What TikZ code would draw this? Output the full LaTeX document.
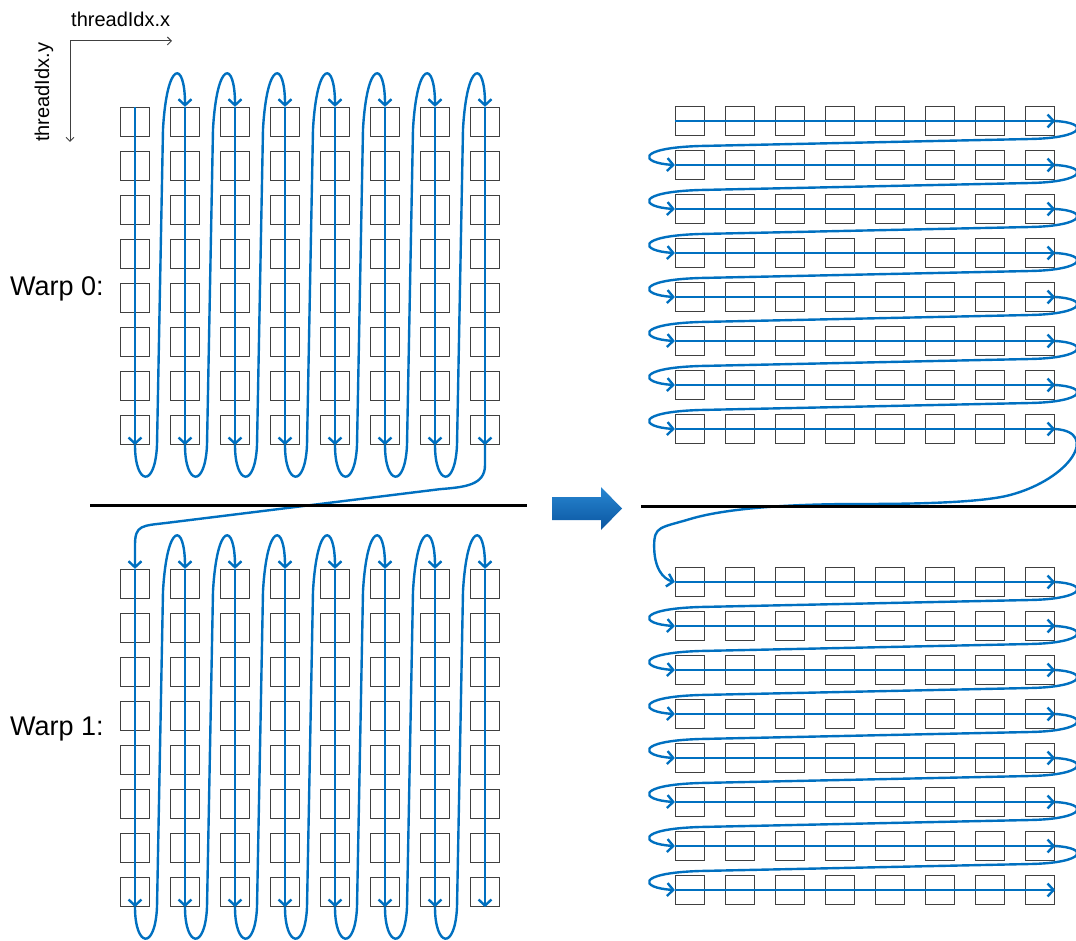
\documentclass[tikz,border=0pt]{standalone}
\usepackage{fontspec}
\setmainfont{Liberation Sans}
\usetikzlibrary{arrows.meta, calc}
\definecolor{flowblue}{RGB}{0,112,192}
\definecolor{cellgray}{RGB}{64,64,64}
\definecolor{arrowtop}{RGB}{40,135,210}
\definecolor{arrowbottom}{RGB}{10,85,160}

\begin{document}
\begin{tikzpicture}[
        x=1pt, y=-1pt,
        cell/.style={rectangle, draw=cellgray, line width=1.3pt, minimum size=29pt, inner sep=0pt},
        flow/.style={draw=flowblue, line width=2.4pt, -{Straight Barb[length=6pt, width=13pt]}},
        axisline/.style={draw=cellgray, line width=1pt, -{Straight Barb[length=4pt, width=8pt]}},
        divider/.style={line width=3pt},
        warplabel/.style={font=\fontsize{27}{32}\selectfont, anchor=base west, inner sep=0pt},
        axislabel/.style={font=\fontsize{20}{24}\selectfont, anchor=base west, inner sep=0pt}
    ]
        \useasboundingbox (0,0) rectangle (1076,941);
        \clip (0,0) rectangle (1076,941);

        % Axes
        \coordinate (origin) at (70,41);
        \coordinate (xtip) at (172,41);
        \coordinate (ytip) at (70,142);
        \draw[axisline] (origin) -- (xtip);
        \draw[axisline] (origin) -- (ytip);
        \node[axislabel] (xlabel) at (71,27) {threadIdx.x};
        \node[axislabel, rotate=90] (ylabel) at (49,142) {threadIdx.y};

        % Warp labels
        \node[warplabel] (w0) at (10,295) {Warp 0:};
        \node[warplabel] (w1) at (10,735) {Warp 1:};

        % Left grids (column order)
        \foreach \g/\ystart in {a/122, b/584}
            \foreach \r in {0,...,7}
                \foreach \c in {0,...,7}
                    \node[cell] (\g-\r-\c) at ({135+50*\c}, {\ystart+44*\r}) {};

        % Right grids (row order)
        \foreach \g/\ystart in {p/121, q/582}
            \foreach \r in {0,...,7}
                \foreach \c in {0,...,7}
                    \node[cell] (\g-\r-\c) at ({690+50*\c}, {\ystart+44*\r}) {};

        % Block arrow
        \shade[top color=arrowtop, bottom color=arrowbottom]
            (552,497) -- (601,497) -- (601,487) -- (622,508.5) -- (601,530) -- (601,520) -- (552,520) -- cycle;

        % Left flow, column by column
        \foreach \g in {a, b} {
            \foreach \c in {0,...,7}
                \draw[flow] (\g-0-\c.north) -- (\g-7-\c.south);
            \foreach \c [evaluate=\c as \n using int(\c+1)] in {0,...,6}
                \draw[flow] (\g-7-\c.south) .. controls +(0,40) and +(-2,44) .. ++(22,0)
                    -- ++(6,-316) .. controls +(4,-70) and +(0,-47) .. (\g-0-\n.north);
        }
        \draw[flow] (a-7-7.south) -- ++(0,20) .. controls +(0,20) and +(25,-2) .. ++(-45,24)
            -- ($(b-0-0.north)+(32,-46)$) .. controls +(-25,3) and +(0,-20) .. ($(b-0-0.north)+(0,-24)$)
            -- (b-0-0.north);

        % Right flow, row by row
        \foreach \g in {p, q} {
            \foreach \r in {0,...,7}
                \draw[flow] (\g-\r-0.west) -- (\g-\r-7.east);
            \foreach \r [evaluate=\r as \n using int(\r+1)] in {0,...,6}
                \draw[flow] (\g-\r-7.east) .. controls +(35,2) and +(55,-1) .. ++(-25,18)
                    -- ($(\g-\n-0.west)+(25,-19)$) .. controls +(-65,2) and +(-35,-2) .. (\g-\n-0.west);
        }
        \draw[flow] (p-7-7.east) .. controls +(45,3) and +(60,-16) .. ++(-45,66)
            .. controls +(-30,8) and +(50,0) .. ++(-150,9)
            .. controls +(-60,0) and +(40,-12) .. ++(-170,15)
            .. controls +(-30,9) and +(0,-20) .. ++(-36,27)
            .. controls +(0,22) and +(-12,-3) .. (q-0-0.west);

        % Dividers
        \coordinate (ldl) at (90,505);
        \coordinate (ldr) at (527,505);
        \coordinate (rdl) at (641,506);
        \coordinate (rdr) at (1080,506);
        \draw[divider] (ldl) -- (ldr);
        \draw[divider] (rdl) -- (rdr);

    \end{tikzpicture}
\end{document}
